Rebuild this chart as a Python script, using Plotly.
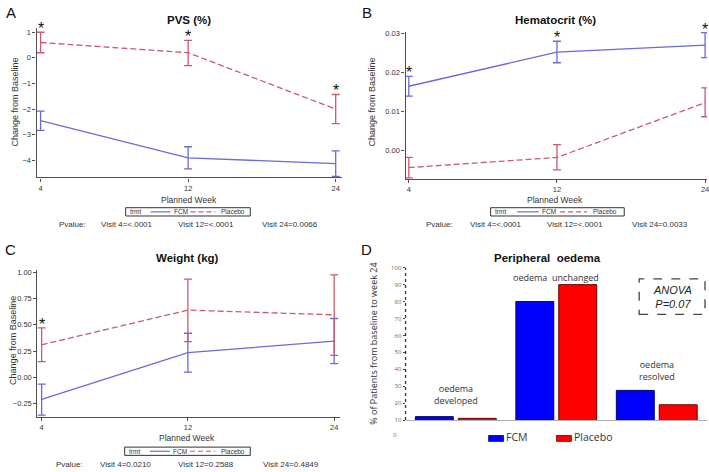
import plotly.graph_objects as go

W, H = 709, 472

# ---------------- data ----------------
weeks = ["4", "12", "24"]

pvs_fcm = [-2.45, -3.90, -4.13]
pvs_fcm_lo = [-2.83, -4.33, -4.63]
pvs_fcm_hi = [-2.08, -3.47, -3.63]
pvs_pla = [0.60, 0.20, -2.00]
pvs_pla_lo = [0.20, -0.30, -2.57]
pvs_pla_hi = [1.00, 0.68, -1.43]
pvs_star_pla = [True, True, True]
pvs_star_fcm = [False, False, False]
pvs_pvalues = ["Visit 4=<.0001", "Visit 12=<.0001", "Visit 24=0.0066"]

hct_fcm = [0.0165, 0.0252, 0.0270]
hct_fcm_lo = [0.0140, 0.0225, 0.0238]
hct_fcm_hi = [0.0190, 0.0280, 0.0302]
hct_pla = [-0.0043, -0.0017, 0.0123]
hct_pla_lo = [-0.0069, -0.0049, 0.0087]
hct_pla_hi = [-0.0017, 0.0016, 0.0161]
hct_star_pla = [False, False, False]
hct_star_fcm = [True, True, True]
hct_pvalues = ["Visit 4=<.0001", "Visit 12=<.0001", "Visit 24=0.0033"]

wt_fcm = [-0.21, 0.235, 0.345]
wt_fcm_lo = [-0.36, 0.05, 0.13]
wt_fcm_hi = [-0.065, 0.42, 0.56]
wt_pla = [0.31, 0.64, 0.595]
wt_pla_lo = [0.15, 0.34, 0.21]
wt_pla_hi = [0.47, 0.935, 0.975]
wt_star_pla = [True, False, False]
wt_star_fcm = [False, False, False]
wt_pvalues = ["Visit 4=0.0210", "Visit 12=0.2588", "Visit 24=0.4849"]

oedema_cats = ["oedema developed", "oedema unchanged", "oedema resolved"]
oedema_fcm = [12, 80, 27.5]
oedema_pla = [11, 90, 19]
oedema_yticks = [10, 20, 30, 40, 50, 60, 70, 80, 90, 100]

# ---------------- style ----------------
FCM_COL = "#6b6bd6"
PLA_COL = "#cc5a6e"
FONT = "Liberation Sans"
DFONT = "Open Sans"
TXT = "#333333"
AX = "#505050"
PLA_DASH = "6px,3px"


def px(x):
    return x / W


def py(y):
    return 1 - y / H


fig = go.Figure()
annotations = []
shapes = []


def paper_text(x, y, text, size, xanchor="center", font=FONT, color=TXT, angle=0):
    annotations.append(dict(x=px(x), y=py(y), xref="paper", yref="paper", text=text,
                            showarrow=False, xanchor=xanchor, yanchor="middle",
                            textangle=angle, font=dict(family=font, size=size, color=color)))


def paper_line(x0, x1, y, color, dash="solid", width=1.2):
    shapes.append(dict(type="line", xref="paper", yref="paper", x0=px(x0), x1=px(x1),
                       y0=py(y), y1=py(y), line=dict(color=color, width=width, dash=dash)))


panels = [
    dict(name="A", title="PVS (%)", xd=(36.7, 343), yd=(25, 177), xr=(-0.027, 2.043),
         yr=(-4.665, 1.18), tickvals=[1, 0, -1, -2, -3, -4], tickfmt="d",
         fcm=(pvs_fcm, pvs_fcm_lo, pvs_fcm_hi), pla=(pvs_pla, pvs_pla_lo, pvs_pla_hi),
         sf=pvs_star_fcm, sp=pvs_star_pla, pv=pvs_pvalues,
         letter=(11, 10), ttl=(190, 17), yt=(15, 100), xt=(190, 200),
         leg=(126, 251, 212), pvy=225, pvx=[73, 127, 207, 291]),
    dict(name="B", title="Hematocrit (%)", xd=(406.7, 709), yd=(29.3, 179), xr=(-0.022, 2.013),
         yr=(-0.0073, 0.0304), tickvals=[0.03, 0.02, 0.01, 0.0], tickfmt=".2f",
         fcm=(hct_fcm, hct_fcm_lo, hct_fcm_hi), pla=(hct_pla, hct_pla_lo, hct_pla_hi),
         sf=hct_star_fcm, sp=hct_star_pla, pv=hct_pvalues,
         letter=(368, 10), ttl=(557, 17), yt=(373, 100), xt=(557, 200),
         leg=(492, 626, 212), pvy=225, pvx=[441, 497, 577, 662]),
    dict(name="C", title="Weight (kg)", xd=(37.5, 341), yd=(271, 420.3), xr=(-0.029, 2.04),
         yr=(-0.378, 1.022), tickvals=[1.0, 0.75, 0.5, 0.25, 0.0, -0.25], tickfmt=".2f",
         fcm=(wt_fcm, wt_fcm_lo, wt_fcm_hi), pla=(wt_pla, wt_pla_lo, wt_pla_hi),
         sf=wt_star_fcm, sp=wt_star_pla, pv=wt_pvalues,
         letter=(11, 250), ttl=(188, 259), yt=(13, 342), xt=(188, 442),
         leg=(125, 251, 455), pvy=468, pvx=[70, 126, 207, 292]),
]

layout_axes = {}
for i, p in enumerate(panels):
    n = i + 1
    xa = "x" if n == 1 else f"x{n}"
    ya = "y" if n == 1 else f"y{n}"
    for label, data, col, dash, stars in [
        ("FCM", p["fcm"], FCM_COL, "solid", p["sf"]),
        ("Placebo", p["pla"], PLA_COL, PLA_DASH, p["sp"]),
    ]:
        val, lo, hi = data
        fig.add_trace(go.Scatter(
            x=weeks, y=val, mode="lines", name=label, showlegend=False,
            xaxis=xa, yaxis=ya,
            line=dict(color=col, width=1.3, dash=dash),
            error_y=dict(type="data", symmetric=False,
                         array=[h - v for h, v in zip(hi, val)],
                         arrayminus=[v - l for v, l in zip(val, lo)],
                         color=col, thickness=1.3, width=4),
        ))
        for k, (h, s) in enumerate(zip(hi, stars)):
            if s:
                annotations.append(dict(x=k, y=h, xref=xa, yref=ya, text="*",
                                        showarrow=False, yanchor="bottom", yshift=-7,
                                        font=dict(family=FONT, size=16, color="#111")))
    xkey = "xaxis" if n == 1 else f"xaxis{n}"
    ykey = "yaxis" if n == 1 else f"yaxis{n}"
    layout_axes[xkey] = dict(
        domain=[px(p["xd"][0]), px(p["xd"][1])], anchor=ya, type="category",
        range=list(p["xr"]), showline=True, linecolor=AX, linewidth=1.3,
        ticks="outside", ticklen=3, tickcolor=AX, showgrid=False, zeroline=False,
        tickfont=dict(family=FONT, size=7.5, color=TXT))
    layout_axes[ykey] = dict(
        domain=[py(p["yd"][1]), py(p["yd"][0])], anchor=xa,
        range=list(p["yr"]), showline=True, linecolor=AX, linewidth=1.3,
        ticks="outside", ticklen=3, tickcolor=AX, showgrid=False, zeroline=False,
        tickvals=p["tickvals"], tickformat=p["tickfmt"],
        tickfont=dict(family=FONT, size=7.5, color=TXT))

    # text
    paper_text(p["letter"][0], p["letter"][1], p["name"], 15, color="#111")
    paper_text(p["ttl"][0], p["ttl"][1], f"<b>{p['title']}</b>", 11.5, color="#111")
    paper_text(p["yt"][0], p["yt"][1], "Change from Baseline", 9, angle=-90)
    paper_text(p["xt"][0], p["xt"][1], "Planned Week", 8.5)
    for xx, t in zip(p["pvx"], ["Pvalue:"] + p["pv"]):
        paper_text(xx, p["pvy"], t, 8)

    # legend box (drawn)
    x0, x1, ly = p["leg"]
    w = x1 - x0
    shapes.append(dict(type="rect", xref="paper", yref="paper", x0=px(x0), x1=px(x1),
                       y0=py(ly + 4.2), y1=py(ly - 4.2), line=dict(color="#333", width=1),
                       fillcolor="white"))
    paper_text(x0 + 0.02 * w, ly, "trmt", 6.5, xanchor="left")
    paper_line(x0 + 0.20 * w, x0 + 0.36 * w, ly, FCM_COL)
    paper_text(x0 + 0.37 * w, ly, "FCM", 6.5, xanchor="left")
    paper_line(x0 + 0.52 * w, x0 + 0.72 * w, ly, PLA_COL, dash="5px,3px")
    paper_text(x0 + 0.75 * w, ly, "Placebo", 6.5, xanchor="left")

# ---------------- panel D ----------------
fig.add_trace(go.Bar(x=oedema_cats, y=oedema_fcm, name="FCM", xaxis="x4", yaxis="y4",
                     showlegend=False,
                     marker=dict(color="#0000ff", line=dict(color="#00006e", width=1))))
fig.add_trace(go.Bar(x=oedema_cats, y=oedema_pla, name="Placebo", xaxis="x4", yaxis="y4",
                     showlegend=False,
                     marker=dict(color="#ff0000", line=dict(color="#6e0000", width=1))))

layout_axes["xaxis4"] = dict(domain=[px(406.7), px(709)], anchor="y4", range=[-0.5, 2.5],
                             showline=True, linecolor="#b0b0b0", linewidth=1.3,
                             showticklabels=False, ticks="", showgrid=False, zeroline=False)
layout_axes["yaxis4"] = dict(domain=[py(423.3), py(267)], anchor="x4", range=[10, 101],
                             showline=False, ticks="outside", ticklen=2, tickcolor="#444",
                             tickvals=oedema_yticks, showgrid=False, zeroline=False,
                             tickfont=dict(family=DFONT, size=6, color="#666"))

shapes.append(dict(type="line", xref="x4 domain", yref="y4", x0=0, x1=0, y0=10, y1=100,
                   line=dict(color="#333", width=1.3, dash="dot")))
shapes.append(dict(type="rect", xref="paper", yref="paper", x0=px(641), x1=px(707),
                   y0=py(316), y1=py(280), line=dict(color="#444", width=1.3, dash="dash")))
# legend for D
for (bx0, bx1, col, lc, lab) in [(490, 505, "#0000ff", "#00006e", "FCM"),
                                 (558, 573, "#ff0000", "#6e0000", "Placebo")]:
    shapes.append(dict(type="rect", xref="paper", yref="paper", x0=px(bx0), x1=px(bx1),
                       y0=py(445), y1=py(439), fillcolor=col, line=dict(color=lc, width=0.8)))
    paper_text(bx1 + 0.5, 441, lab, 10.5, xanchor="left", font=DFONT)

paper_text(368, 250, "D", 15, color="#111")
paper_text(549, 259, "<b>Peripheral  oedema</b>", 11.5, color="#111")
paper_text(375, 346, "% of Patients from baseline to week 24", 9, font=DFONT, angle=-90)
paper_text(400, 438, "0", 6, xanchor="right", font=DFONT, color="#666")
annotations += [
    dict(x=0, y=25.3, xref="x4", yref="y4", text="oedema<br>developed", showarrow=False,
         font=dict(family=DFONT, size=9, color=TXT)),
    dict(x=1, y=94, xref="x4", yref="y4", text="oedema  unchanged", showarrow=False,
         font=dict(family=DFONT, size=9, color=TXT)),
    dict(x=2, y=39.2, xref="x4", yref="y4", text="oedema<br>resolved", showarrow=False,
         font=dict(family=DFONT, size=9, color=TXT)),
]
paper_text(674, 298, "<i>ANOVA<br>P=0.07</i>", 11, color="#222")

fig.update_layout(
    width=W, height=H, margin=dict(l=0, r=0, t=0, b=0),
    paper_bgcolor="white", plot_bgcolor="white",
    barmode="group", bargap=0.146, bargroupgap=0.116,
    annotations=annotations, shapes=shapes, showlegend=False,
    **layout_axes,
)

fig.write_html("out.html", config={"displayModeBar": False},
               post_script="document.body.style.margin='0';document.body.style.overflow='hidden';")
